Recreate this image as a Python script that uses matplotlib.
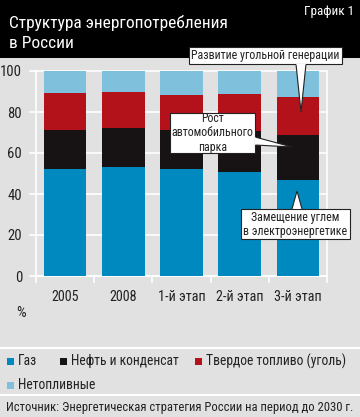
import matplotlib
matplotlib.use("Agg")
import matplotlib.pyplot as plt
from matplotlib.patches import Rectangle, Polygon
from matplotlib import font_manager

names = {f.name for f in font_manager.fontManager.ttflist}
cands = ['Roboto Condensed', 'PT Sans Narrow', 'Fira Sans Condensed', 'Archivo Narrow',
         'Liberation Sans Narrow', 'Open Sans Condensed']
chosen = [c for c in cands if c in names]
FONT = chosen[:1] + ['DejaVu Sans']
plt.rcParams['font.family'] = FONT

categories = ['2005', '2008', '1-й этап', '2-й этап', '3-й этап']
series_names = ['Газ', 'Нефть и конденсат', 'Твердое топливо (уголь)', 'Нетопливные']
gas = [52.2, 53.2, 52.1, 50.7, 46.8]
oil = [19.0, 18.8, 19.1, 20.2, 22.0]
coal = [17.9, 17.6, 17.2, 17.9, 18.7]
nonfuel = [10.9, 10.4, 11.6, 11.2, 12.5]
colors = ['#0089bf', '#171314', '#b4121b', '#7fc0dc']
yticks = [0, 20, 40, 60, 80, 100]

W, H = 360, 417
BG = '#e1e1e1'
TXT = '#222222'
fig = plt.figure(figsize=(W / 100, H / 100), dpi=100, facecolor=BG)

def fx(px):
    return px / W

def fy(py):
    return 1 - py / H

# title bar
fig.patches.append(Rectangle((0, fy(58)), 1, 58 / H, transform=fig.transFigure,
                             facecolor='black', edgecolor='none', zorder=0))
fig.text(fx(9), fy(23), 'Структура энергопотребления', color='white', fontsize=12.5,
         va='center', ha='left')
fig.text(fx(9), fy(44), 'в России', color='white', fontsize=12.5, va='center', ha='left')
fig.text(fx(354), fy(11), 'График 1', color='white', fontsize=9.5, va='center', ha='right')

# axes
ax_l, ax_r, ax_t, ax_b = 36, 327, 71, 276
ax = fig.add_axes([fx(ax_l), fy(ax_b), (ax_r - ax_l) / W, (ax_b - ax_t) / H])
ax.set_facecolor(BG)
x = list(range(len(categories)))
bottom = [0] * len(categories)
for vals, c in zip([gas, oil, coal, nonfuel], colors):
    ax.bar(x, vals, width=0.73, bottom=bottom, color=c, zorder=3)
    bottom = [b + v for b, v in zip(bottom, vals)]
ax.set_xlim(-0.5, len(categories) - 0.5)
ax.set_ylim(0, 100)
ax.set_yticks(yticks)
ax.set_yticklabels([str(t) for t in yticks], fontsize=10.5, color=TXT)
ax.tick_params(axis='y', length=0, pad=10)
ax.set_xticks(x)
ax.set_xticklabels(categories, fontsize=10.2, color=TXT)
ax.tick_params(axis='x', length=0, pad=10)
ax.set_xticks([i - 0.5 for i in range(len(categories) + 1)], minor=True)
ax.tick_params(axis='x', which='minor', length=5, color='white', width=1.2)
for t in yticks:
    ax.axhline(t, xmin=-6 / (ax_r - ax_l), xmax=1, color='white', lw=1.2,
               zorder=1, clip_on=False)
ax.spines['top'].set_visible(False)
for s in ['left', 'right', 'bottom']:
    ax.spines[s].set_color('white')
    ax.spines[s].set_linewidth(1.2)

fig.text(fx(21), fy(313), '%', fontsize=11, color=TXT, ha='center', va='center')

# callouts
def callout(box, tip, base, lines, fs=8.6):
    l, t, r, b = box
    fig.patches.append(Polygon([(fx(base[0][0]), fy(base[0][1])),
                                (fx(tip[0]), fy(tip[1])),
                                (fx(base[1][0]), fy(base[1][1]))],
                               closed=True, transform=fig.transFigure,
                               facecolor='white', edgecolor=TXT, lw=0.8, zorder=10))
    fig.patches.append(Rectangle((fx(l), fy(b)), (r - l) / W, (b - t) / H,
                                 transform=fig.transFigure, facecolor='white',
                                 edgecolor=TXT, lw=0.8, zorder=11))
    mx = (base[0][0] + base[1][0]) / 2
    my = (base[0][1] + base[1][1]) / 2
    fig.patches.append(Polygon([(fx(base[0][0]), fy(base[0][1])),
                                (fx(base[1][0]), fy(base[1][1])),
                                (fx(mx + (tip[0] - mx) * 0.15), fy(my + (tip[1] - my) * 0.15))],
                               closed=True, transform=fig.transFigure,
                               facecolor='white', edgecolor='none', zorder=12))
    fig.text(fx((l + r) / 2), fy((t + b) / 2), lines, fontsize=fs, color=TXT,
             ha='center', va='center', linespacing=1.1, zorder=13)

callout((189, 47, 342, 64), (301, 112), [(296, 64), (306, 64)],
        'Развитие угольной генерации')
callout((170, 113, 255, 153), (292, 147), [(255, 137), (255, 145)],
        'Рост\nавтомобильного\nпарка')
callout((241, 209, 350, 239), (297, 191), [(292, 209), (302, 209)],
        'Замещение углем\nв электроэнергетике')

# separators
for yy in [348, 395]:
    fig.lines.append(plt.Line2D([0, 1], [fy(yy), fy(yy)], transform=fig.transFigure,
                                color='white', lw=1.5))

# legend
leg_pos = [(7, 361), (60, 361), (195, 361), (7, 385)]
for (lx, ly), name, c in zip(leg_pos, series_names, colors):
    fig.patches.append(Rectangle((fx(lx), fy(ly + 3.5)), 7 / W, 7 / H,
                                 transform=fig.transFigure, facecolor=c, edgecolor='none'))
    fig.text(fx(lx + 11), fy(ly), name, fontsize=9.8, color=TXT, ha='left', va='center')

fig.text(fx(6), fy(407), 'Источник: Энергетическая стратегия России на период до 2030 г.',
         fontsize=9.1, color=TXT, ha='left', va='center')

fig.savefig('out.png', dpi=100, facecolor=BG)
